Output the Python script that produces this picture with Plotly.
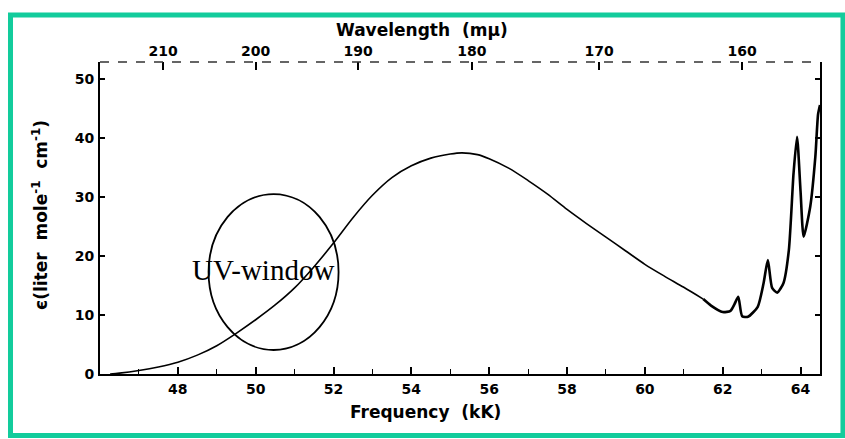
import plotly.graph_objects as go

# Absorption spectrum: frequency (kK) vs molar extinction coefficient
freq_kK = [46.26, 46.5, 47.0, 47.5, 48.0, 48.5, 49.0, 49.5, 50.0, 50.5, 51.0, 51.5,
           52.0, 52.5, 53.0, 53.5, 54.0, 54.5, 55.0, 55.3, 55.7, 56.0, 56.5, 57.0,
           57.5, 58.0, 58.5, 59.0, 59.5, 60.0, 60.5, 61.0, 61.5, 61.7, 62.0, 62.2,
           62.3, 62.4, 62.5, 62.65, 62.9, 63.05, 63.16, 63.27, 63.4, 63.56, 63.7,
           63.82, 63.91, 64.0, 64.08, 64.25, 64.38, 64.45, 64.5]
epsilon = [0.0, 0.15, 0.6, 1.2, 2.0, 3.2, 4.8, 6.9, 9.2, 11.7, 14.6, 18.2,
           22.2, 26.5, 30.3, 33.3, 35.3, 36.6, 37.3, 37.5, 37.2, 36.5, 34.9, 32.8,
           30.5, 27.9, 25.5, 23.2, 20.9, 18.6, 16.6, 14.7, 12.7, 11.6, 10.5, 10.7,
           11.8, 13.1, 9.8, 9.7, 11.4, 15.4, 19.3, 14.6, 13.8, 15.4, 21.0,
           34.0, 40.2, 31.0, 23.3, 28.4, 36.8, 44.0, 45.6]

freq_ticks = [48, 50, 52, 54, 56, 58, 60, 62, 64]
eps_ticks = [0, 10, 20, 30, 40, 50]
wavelength_ticks = [210, 200, 190, 180, 170, 160]  # m-mu (nm)

# UV-window ellipse extent (data units) and label
uv_x = [48.79, 52.13]
uv_y = [4.07, 30.5]
uv_label = "UV-window"
uv_label_pos = [50.2, 17.6]

X_RANGE = [46.0, 64.5]
Y_RANGE = [0, 52.9]
split = freq_kK.index(61.5)

fig = go.Figure()
fig.add_trace(go.Scatter(x=freq_kK[:split + 1], y=epsilon[:split + 1], mode="lines",
                         line=dict(color="black", width=1.6, shape="spline", smoothing=0.8),
                         hoverinfo="skip", showlegend=False))
fig.add_trace(go.Scatter(x=freq_kK[split:], y=epsilon[split:], mode="lines",
                         line=dict(color="black", width=2.6, shape="spline", smoothing=0.6),
                         hoverinfo="skip", showlegend=False))
# invisible trace to anchor the top wavelength axis
fig.add_trace(go.Scatter(x=X_RANGE, y=[0, 0], xaxis="x2", mode="lines",
                         line=dict(color="rgba(0,0,0,0)"), hoverinfo="skip", showlegend=False))

tick_font = dict(family="DejaVu Sans", size=14, color="black", weight="bold")
title_font = dict(family="DejaVu Sans", size=17, color="black", weight="bold")

fig.update_layout(
    width=845, height=439,
    margin=dict(l=100, r=25, t=62, b=65, pad=0),
    paper_bgcolor="white", plot_bgcolor="white",
    xaxis=dict(range=X_RANGE, tickmode="array", tickvals=freq_ticks,
               ticktext=[str(v) for v in freq_ticks],
               ticks="inside", ticklen=7, tickwidth=1.5, tickcolor="black",
               minor=dict(dtick=1, tick0=0, ticks="inside", ticklen=5, tickwidth=1.3, tickcolor="black"),
               showline=True, linecolor="black", linewidth=2, mirror=False,
               showgrid=False, zeroline=False, tickfont=tick_font, ticklabelstandoff=1),
    xaxis2=dict(range=X_RANGE, overlaying="x", side="top", tickmode="array",
                tickvals=[1e4 / w for w in wavelength_ticks],
                ticktext=[str(w) for w in wavelength_ticks],
                ticks="inside", ticklen=8, tickwidth=1.5, tickcolor="black",
                showline=False, showgrid=False, zeroline=False, tickfont=tick_font,
                ticklabelstandoff=2),
    yaxis=dict(range=Y_RANGE, tickmode="array", tickvals=eps_ticks,
               ticktext=[str(v) for v in eps_ticks],
               ticks="inside", ticklen=5, tickwidth=1.5, tickcolor="black",
               showline=True, linecolor="black", linewidth=2, mirror="ticks",
               showgrid=False, zeroline=False, tickfont=tick_font, ticklabelstandoff=1),
    showlegend=False,
)

# dashed top frame line
fig.add_shape(type="line", xref="paper", yref="paper", x0=0, x1=1, y0=1, y1=1,
              line=dict(color="#333333", width=1.5, dash="dash"))
# UV-window ellipse
fig.add_shape(type="circle", xref="x", yref="y", x0=uv_x[0], x1=uv_x[1], y0=uv_y[0], y1=uv_y[1],
              line=dict(color="black", width=1.8))
# teal outer border
fig.add_shape(type="rect", xref="paper", yref="paper",
              x0=-0.1243, x1=1.0319, y0=-0.1971, y1=1.1506,
              line=dict(color="#12CC9C", width=5), layer="above")

fig.add_annotation(x=uv_label_pos[0], y=uv_label_pos[1], xref="x", yref="y", text=uv_label,
                   xanchor="center", yanchor="middle",
                   showarrow=False, font=dict(family="Liberation Serif", size=29, color="black"))
fig.add_annotation(x=0.4514, y=-0.1218, xref="paper", yref="paper", text="Frequency  (kK)",
                   xanchor="center", yanchor="middle", showarrow=False, font=title_font)
fig.add_annotation(x=0.447, y=1.1026, xref="paper", yref="paper", text="Wavelength  (mμ)",
                   xanchor="center", yanchor="middle", showarrow=False, font=title_font)
fig.add_annotation(x=-0.0833, y=0.51, xref="paper", yref="paper", textangle=-90,
                   xanchor="center", yanchor="middle",
                   text="є(liter  mole<sup>-1</sup>  cm<sup>-1</sup>)",
                   showarrow=False, font=title_font)

fig.write_html("out.html", config={"displayModeBar": False},
               post_script="document.body.style.margin='0';document.body.style.overflow='hidden';")
